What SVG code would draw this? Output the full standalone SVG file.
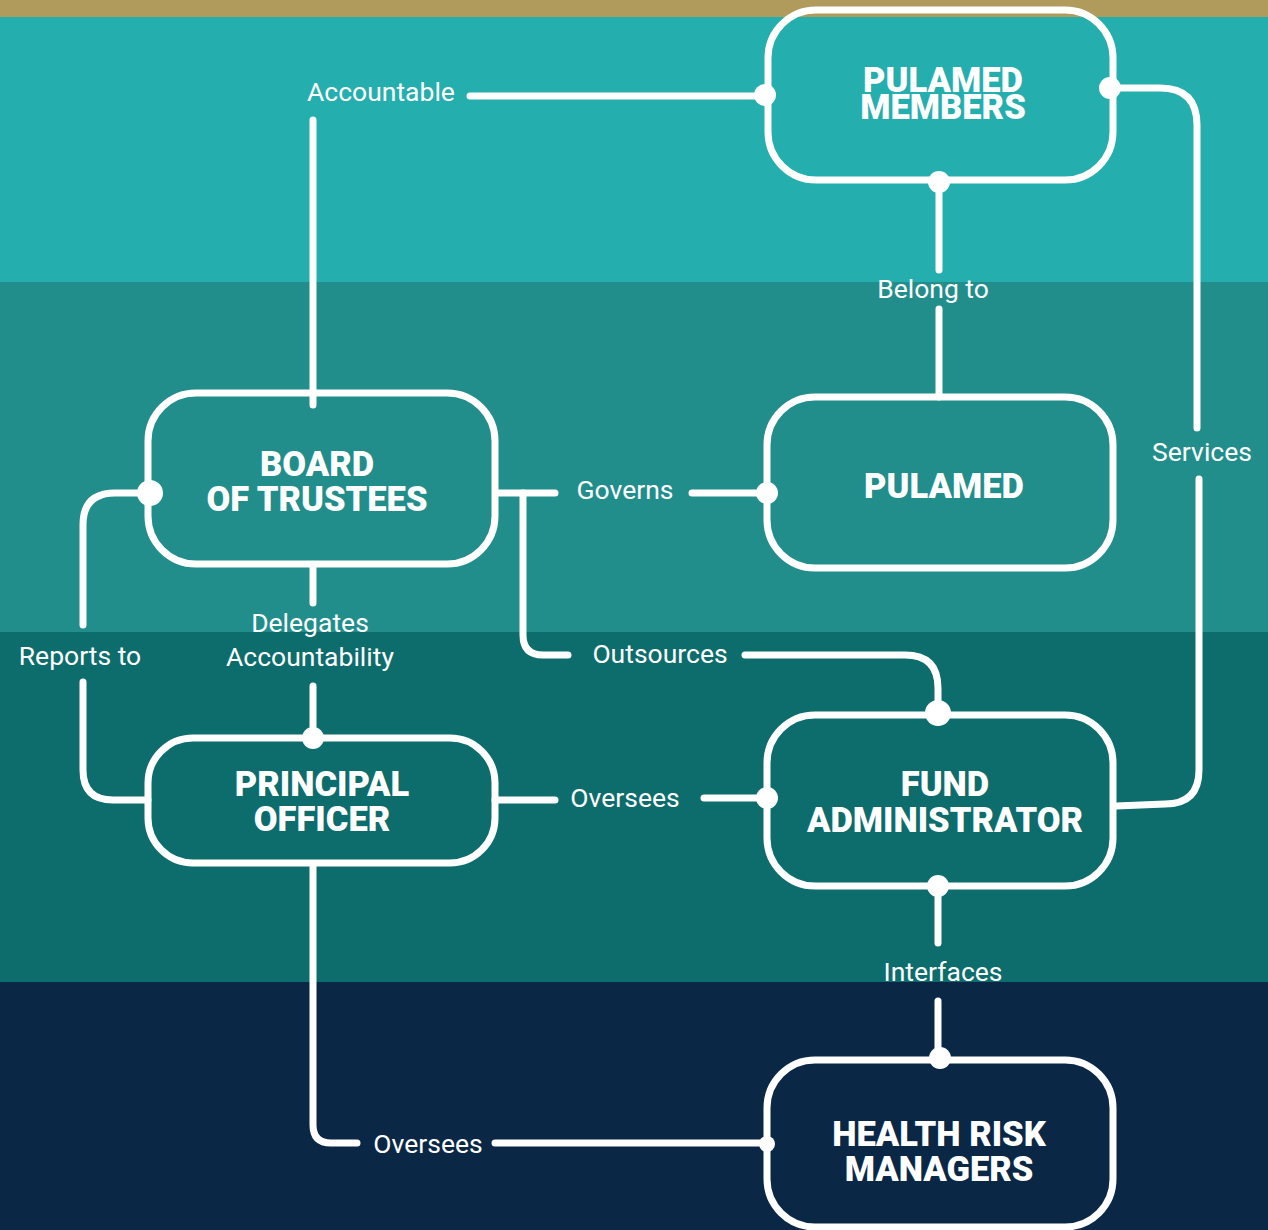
<svg xmlns="http://www.w3.org/2000/svg" width="1268" height="1230" viewBox="0 0 1268 1230">
<style>
.node{fill:none;stroke:#fff;stroke-width:7}
.ln{fill:none;stroke:#fff;stroke-width:7;stroke-linecap:round;stroke-linejoin:round}
.dot{fill:#fff}
.t{font-family:"Roboto","Inter",sans-serif;font-weight:900;font-size:34.5px;fill:#fff;text-anchor:middle}
.lb{font-family:"Roboto","Inter",sans-serif;font-weight:400;font-size:26.5px;fill:#fff;text-anchor:middle}
</style>
<g id="background">
<rect x="0" y="0" width="1268" height="17" fill="#B09B5C"/>
<rect x="0" y="17" width="1268" height="265" fill="#24AEAE"/>
<rect x="0" y="282" width="1268" height="350" fill="#218E8B"/>
<rect x="0" y="632" width="1268" height="350" fill="#0D6C6C"/>
<rect x="0" y="982" width="1268" height="248" fill="#0A2746"/>
</g>
<g id="connectors">
<path class="ln" d="M313,405 V120"/>
<path class="ln" d="M470,96 H765"/>
<path class="ln" d="M939,182 V270"/>
<path class="ln" d="M939,309 V397"/>
<path class="ln" d="M1110,88 H1160 Q1197,88 1197,125 V428"/>
<path class="ln" d="M1199,479 V770 Q1199,804 1165,804 L1116,806"/>
<path class="ln" d="M498,493 H555"/>
<path class="ln" d="M692,493 H767"/>
<path class="ln" d="M523,493 V635 Q523,655 543,655 H568"/>
<path class="ln" d="M745,655 H905 Q938,655 938,688 V713"/>
<path class="ln" d="M150,493 H115 Q83,493 83,525 V625"/>
<path class="ln" d="M83,682 V770 Q83,800 113,800 H148"/>
<path class="ln" d="M313,567 V603"/>
<path class="ln" d="M313,686 V738"/>
<path class="ln" d="M495,800 H555"/>
<path class="ln" d="M704,798 H767"/>
<path class="ln" d="M938,886 V943"/>
<path class="ln" d="M938,1001 V1058"/>
<path class="ln" d="M313,866 V1125 Q313,1143 331,1143 H357"/>
<path class="ln" d="M495,1143 H767"/>
<circle class="dot" cx="765" cy="95" r="11"/>
<circle class="dot" cx="1110" cy="88" r="11"/>
<circle class="dot" cx="939" cy="182" r="11"/>
<circle class="dot" cx="150" cy="493" r="13"/>
<circle class="dot" cx="767" cy="493" r="11"/>
<circle class="dot" cx="938" cy="713" r="13"/>
<circle class="dot" cx="767" cy="798" r="11"/>
<circle class="dot" cx="313" cy="738" r="11"/>
<circle class="dot" cx="938" cy="886" r="11"/>
<circle class="dot" cx="940" cy="1058" r="11"/>
<circle class="dot" cx="767" cy="1144" r="8"/>
</g>
<g id="labels">
<text class="lb" x="381" y="101">Accountable</text>
<text class="lb" x="933" y="298">Belong to</text>
<text class="lb" x="1202" y="461">Services</text>
<text class="lb" x="625" y="499">Governs</text>
<text class="lb" x="660" y="663">Outsources</text>
<text class="lb" x="80" y="665">Reports to</text>
<text class="lb" x="310" y="632">Delegates</text>
<text class="lb" x="310" y="666">Accountability</text>
<text class="lb" x="625" y="807">Oversees</text>
<text class="lb" x="943" y="981">Interfaces</text>
<text class="lb" x="428" y="1153">Oversees</text>
</g>
<g id="node-pulamed-members">
<rect class="node" x="768" y="10" width="345" height="170" rx="48"/>
<text class="t" x="943" y="92">PULAMED</text>
<text class="t" x="943" y="119">MEMBERS</text>
</g>
<g id="node-board">
<rect class="node" x="148" y="393" width="347" height="171" rx="48"/>
<text class="t" x="317" y="476">BOARD</text>
<text class="t" x="317" y="511">OF TRUSTEES</text>
</g>
<g id="node-pulamed">
<rect class="node" x="767" y="397" width="346" height="171" rx="48"/>
<text class="t" x="944" y="498">PULAMED</text>
</g>
<g id="node-principal-officer">
<rect class="node" x="148" y="738" width="347" height="125" rx="45"/>
<text class="t" x="322" y="796">PRINCIPAL</text>
<text class="t" x="322" y="831">OFFICER</text>
</g>
<g id="node-fund-administrator">
<rect class="node" x="767" y="715" width="346" height="171" rx="48"/>
<text class="t" x="945" y="796">FUND</text>
<text class="t" x="945" y="832">ADMINISTRATOR</text>
</g>
<g id="node-health-risk-managers">
<rect class="node" x="767" y="1060" width="346" height="167" rx="48"/>
<text class="t" x="939" y="1146">HEALTH RISK</text>
<text class="t" x="939" y="1181">MANAGERS</text>
</g>
</svg>
